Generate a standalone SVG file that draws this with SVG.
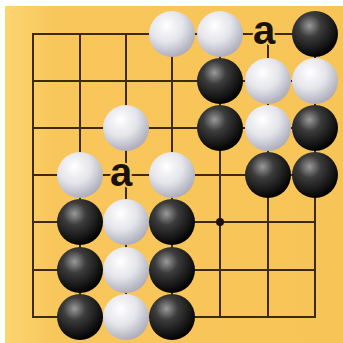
<svg xmlns="http://www.w3.org/2000/svg" width="343" height="343" viewBox="0 0 343 343">
<style>
.grid line{stroke:#3d2a10;stroke-width:2;stroke-linecap:square}
.lbl{font-family:"Liberation Sans",Arial,sans-serif;font-weight:bold;font-size:40px;fill:#1a1208;text-anchor:middle;stroke:#f8c75a;stroke-width:4;paint-order:stroke}
</style>
<defs>
<radialGradient id="gb" cx="38%" cy="32%" r="70%">
<stop offset="0" stop-color="#9a9a9a"/>
<stop offset="0.35" stop-color="#3c3c3c"/>
<stop offset="1" stop-color="#000"/>
</radialGradient>
<radialGradient id="gw" cx="38%" cy="32%" r="72%">
<stop offset="0" stop-color="#ffffff"/>
<stop offset="0.5" stop-color="#e4e4ea"/>
<stop offset="1" stop-color="#a9a9b8"/>
</radialGradient>
<linearGradient id="bg" x1="0" y1="0" x2="1" y2="0">
<stop offset="0" stop-color="#fbd572"/>
<stop offset="0.15" stop-color="#f8c65a"/>
<stop offset="1" stop-color="#f7c458"/>
</linearGradient>
<circle id="b" r="23" fill="url(#gb)"/>
<circle id="w" r="23" fill="url(#gw)"/>
</defs>
<rect width="343" height="343" fill="#ffffff"/>
<rect x="5" y="6" width="338" height="337" fill="url(#bg)"/>
<g id="connectors" class="grid">
<line x1="33" y1="34" x2="315" y2="34"/>
<line x1="33" y1="81" x2="315" y2="81"/>
<line x1="33" y1="128" x2="315" y2="128"/>
<line x1="33" y1="175" x2="315" y2="175"/>
<line x1="33" y1="222" x2="315" y2="222"/>
<line x1="33" y1="270" x2="315" y2="270"/>
<line x1="33" y1="317" x2="315" y2="317"/>
<line x1="33" y1="34" x2="33" y2="317"/>
<line x1="80" y1="34" x2="80" y2="317"/>
<line x1="126" y1="34" x2="126" y2="317"/>
<line x1="172" y1="34" x2="172" y2="317"/>
<line x1="220" y1="34" x2="220" y2="317"/>
<line x1="268" y1="34" x2="268" y2="317"/>
<line x1="315" y1="34" x2="315" y2="317"/>
<circle cx="220" cy="222" r="4" fill="#1a1208"/>
</g>
<g id="white-stones">
<use href="#w" x="172" y="34"/>
<use href="#w" x="220" y="34"/>
<use href="#w" x="268" y="81"/>
<use href="#w" x="315" y="81"/>
<use href="#w" x="126" y="128"/>
<use href="#w" x="268" y="128"/>
<use href="#w" x="80" y="175"/>
<use href="#w" x="172" y="175"/>
<use href="#w" x="126" y="222"/>
<use href="#w" x="126" y="270"/>
<use href="#w" x="126" y="317"/>
</g>
<g id="black-stones">
<use href="#b" x="315" y="34"/>
<use href="#b" x="220" y="81"/>
<use href="#b" x="220" y="128"/>
<use href="#b" x="315" y="128"/>
<use href="#b" x="268" y="175"/>
<use href="#b" x="315" y="175"/>
<use href="#b" x="80" y="222"/>
<use href="#b" x="172" y="222"/>
<use href="#b" x="80" y="270"/>
<use href="#b" x="172" y="270"/>
<use href="#b" x="80" y="317"/>
<use href="#b" x="172" y="317"/>
</g>
<g id="labels">
<text class="lbl" x="264" y="44">a</text>
<text class="lbl" x="121" y="186">a</text>
</g>
</svg>
